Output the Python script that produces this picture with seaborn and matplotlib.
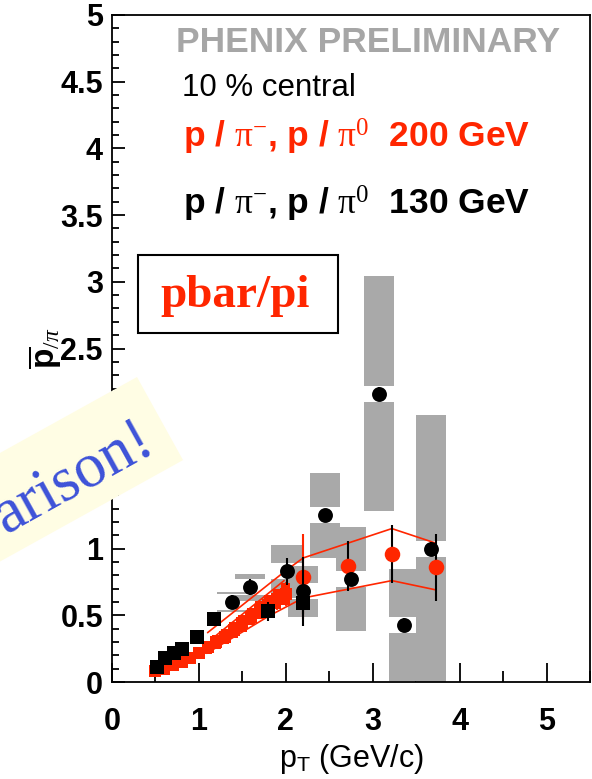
import numpy as np
import pandas as pd
import matplotlib
matplotlib.use("Agg")
import matplotlib.pyplot as plt
import seaborn as sns
from matplotlib.patches import Rectangle, Polygon
from matplotlib.ticker import MultipleLocator, FuncFormatter

# --- 200 GeV, p/pi- (red squares with red systematic boxes) ---
pt_200_pim = [0.5, 0.6, 0.7, 0.8, 0.9, 1.0, 1.1, 1.2, 1.3, 1.4, 1.5, 1.6, 1.7, 1.8, 1.9, 2.0]
ratio_200_pim = [0.085, 0.10, 0.125, 0.15, 0.18, 0.22, 0.26, 0.30, 0.34, 0.39, 0.44, 0.49, 0.54, 0.58, 0.62, 0.66]
err_200_pim = [0.01, 0.01, 0.012, 0.015, 0.02, 0.02, 0.025, 0.03, 0.035, 0.04, 0.045, 0.05, 0.06, 0.07, 0.08, 0.09]
sys_200_pim = [0.03, 0.032, 0.035, 0.038, 0.042, 0.045, 0.05, 0.053, 0.056, 0.06, 0.063, 0.066, 0.07, 0.073, 0.076, 0.08]

# --- 200 GeV, p/pi0 (red circles) ---
pt_200_pi0 = [2.20, 2.71, 3.22, 3.73]
ratio_200_pi0 = [0.79, 0.87, 0.96, 0.86]
err_200_pi0 = [0.32, 0.19, 0.22, 0.25]

# --- 200 GeV systematic band edges ---
band_up_x = [1.10, 2.01, 2.20, 3.22, 3.73]
band_up_y = [0.37, 0.84, 0.93, 1.15, 1.04]
band_lo_x = [1.09, 1.82, 2.20, 3.22, 3.73]
band_lo_y = [0.215, 0.50, 0.63, 0.76, 0.69]
inner_up_x = [1.20, 1.98]
inner_up_y = [0.35, 0.76]
inner_lo_x = [1.20, 1.98]
inner_lo_y = [0.27, 0.62]

# --- 130 GeV, p/pi- (black squares) ---
pt_130_pim = [0.52, 0.61, 0.71, 0.81, 0.98, 1.17, 1.80, 2.20]
ratio_130_pim = [0.115, 0.18, 0.215, 0.25, 0.335, 0.47, 0.53, 0.59]
err_130_pim = [0.01, 0.012, 0.014, 0.016, 0.02, 0.03, 0.07, 0.08]

# --- 130 GeV, p/pi0 (black circles) with systematic boxes ---
pt_130_pi0 = [1.38, 1.59, 2.01, 2.20, 2.45, 2.75, 3.07, 3.36, 3.67]
ratio_130_pi0 = [0.60, 0.71, 0.83, 0.68, 1.25, 0.77, 2.16, 0.43, 1.00]
err_130_pi0 = [0.05, 0.06, 0.10, 0.26, 0.05, 0.05, 0.05, 0.05, 0.05]
sys_130_pi0 = [0.075, 0.10, 0.20, 0.19, 0.32, 0.39, 0.88, 0.42, 1.00]

x_ticks = [0, 1, 2, 3, 4, 5]
y_ticks = [0, 0.5, 1, 1.5, 2, 2.5, 3, 3.5, 4, 4.5, 5]

RED = "#ff2600"
GRAY = "#a9a9a9"

sns.set_theme(style="ticks")
plt.rcParams["font.family"] = ["Liberation Sans", "DejaVu Sans"]
plt.rcParams["mathtext.fontset"] = "custom"
plt.rcParams["mathtext.rm"] = "Liberation Serif"
plt.rcParams["mathtext.it"] = "Liberation Serif:italic"
plt.rcParams["mathtext.bf"] = "Liberation Sans:bold"
plt.rcParams["mathtext.sf"] = "Liberation Sans"

W, H = 592, 779
fig = plt.figure(figsize=(W / 100, H / 100), dpi=100)
fig.patch.set_facecolor("white")


def fx(px):
    return px / W


def fy(py):
    return 1 - py / H


L, R, T, B = 112, 590, 15, 682
ax = fig.add_axes([fx(L), fy(B), (R - L) / W, (B - T) / H])
ax.set_facecolor("white")
ax.set_xlim(0, 5.5)
ax.set_ylim(0, 5)

# systematic boxes of the 130 GeV pi0 points, split around the marker
box_w = 0.35
gap = 0.06
df_box = pd.DataFrame({"x": pt_130_pi0, "y": ratio_130_pi0, "s": sys_130_pi0})
ax.bar(df_box.x, df_box.s - gap, bottom=df_box.y + gap, width=box_w,
       color=GRAY, linewidth=0, zorder=1)
ax.bar(df_box.x, df_box.s - gap, bottom=df_box.y - df_box.s, width=box_w,
       color=GRAY, linewidth=0, zorder=1)

# band outlines
for bx, by in [(band_up_x, band_up_y), (band_lo_x, band_lo_y),
               (inner_up_x, inner_up_y), (inner_lo_x, inner_lo_y)]:
    sns.lineplot(x=bx, y=by, sort=False, estimator=None, color=RED,
                 linewidth=1.2, ax=ax, legend=False, zorder=2)

# 200 GeV p/pi-
d = pd.DataFrame({"x": pt_200_pim, "y": ratio_200_pim, "e": err_200_pim,
                  "s": sys_200_pim})
ax.bar(d.x, 2 * d.s, bottom=d.y - d.s, width=0.1, color=RED, linewidth=0,
       zorder=3)
ax.vlines(d.x, d.y - d.e, d.y + d.e, color=RED, linewidth=1.3, zorder=3)
sns.scatterplot(data=d, x="x", y="y", marker="s", color=RED, s=85,
                edgecolor=RED, linewidth=0, ax=ax, zorder=4, legend=False)

# 200 GeV p/pi0
d = pd.DataFrame({"x": pt_200_pi0, "y": ratio_200_pi0, "e": err_200_pi0})
ecol = [RED, "black", "black", "black"]
ax.vlines(d.x, d.y - d.e, d.y + d.e, colors=ecol, linewidth=1.5, zorder=3)
sns.scatterplot(data=d, x="x", y="y", marker="o", color=RED, s=125,
                edgecolor=RED, linewidth=0, ax=ax, zorder=5, legend=False)

# 130 GeV p/pi-
d = pd.DataFrame({"x": pt_130_pim, "y": ratio_130_pim, "e": err_130_pim})
ax.vlines(d.x, d.y - d.e, d.y + d.e, color="black", linewidth=1.5, zorder=6)
sns.scatterplot(data=d, x="x", y="y", marker="s", color="black", s=90,
                edgecolor="black", linewidth=0, ax=ax, zorder=7, legend=False)

# 130 GeV p/pi0
d = pd.DataFrame({"x": pt_130_pi0, "y": ratio_130_pi0, "e": err_130_pi0})
ax.vlines(d.x, d.y - d.e, d.y + d.e, color="black", linewidth=1.5, zorder=6)
sns.scatterplot(data=d, x="x", y="y", marker="o", color="black", s=115,
                edgecolor="black", linewidth=0, ax=ax, zorder=7, legend=False)

# axes styling
for sp in ax.spines.values():
    sp.set_visible(True)
    sp.set_color("black")
    sp.set_linewidth(1.3)
ax.set_xticks(x_ticks)
ax.set_yticks(y_ticks)
ax.xaxis.set_minor_locator(MultipleLocator(0.5))
ax.yaxis.set_minor_locator(MultipleLocator(0.1))
fmt = FuncFormatter(lambda v, p: f"{v:g}")
ax.xaxis.set_major_formatter(fmt)
ax.yaxis.set_major_formatter(fmt)
ax.tick_params(axis="both", which="both", direction="in", color="black",
               width=1.3, top=False, right=False)
ax.tick_params(axis="x", which="major", length=14, pad=18)
ax.tick_params(axis="x", which="minor", length=8)
ax.tick_params(axis="y", which="major", length=9, pad=6.5)
ax.tick_params(axis="y", which="minor", length=5)
for lab in ax.get_xticklabels() + ax.get_yticklabels():
    lab.set_fontsize(22)
    lab.set_fontweight("bold")
    lab.set_color("black")
ax.grid(False)

ax.set_xlabel(r"p$_{\mathsf{T}}$ (GeV/c)", fontsize=22, color="black")
ax.xaxis.set_label_coords(0.5, -0.09)
ax.set_ylabel(r"$\overline{\mathbf{p}}_{/\pi}$", fontsize=24, color="black",
              rotation=90)
ax.yaxis.set_label_coords(-0.102, 0.5)

# header texts
fig.text(fx(368), fy(43), "PHENIX PRELIMINARY", fontsize=25.5, fontweight="bold",
         color="#a6a6a6", ha="center", va="center")
fig.text(fx(182), fy(96), "10 % central", fontsize=22.5, color="black",
         ha="left", va="baseline")
fig.text(fx(183), fy(148), r"p / $\mathrm{\pi}^{-}$, p / $\mathrm{\pi}^{0}$  200 GeV",
         fontsize=25.5, fontweight="bold", color=RED, ha="left", va="baseline")
fig.text(fx(183), fy(215), r"p / $\mathrm{\pi}^{-}$, p / $\mathrm{\pi}^{0}$  130 GeV",
         fontsize=25.5, fontweight="bold", color="black", ha="left", va="baseline")

# boxed label
fig.patches.append(Rectangle((fx(138), fy(333)), (338 - 138) / W, (333 - 255) / H,
                             transform=fig.transFigure, facecolor="white",
                             edgecolor="black", linewidth=1.5, zorder=10))
fig.text(fx(235), fy(296), "pbar/pi", fontsize=34, fontweight="bold",
         family="Liberation Serif", color=RED, ha="center", va="center", zorder=11)

# rotated note
ang = np.deg2rad(29)
u = np.array([np.cos(ang), -np.sin(ang)])
v = np.array([np.sin(ang), np.cos(ang)])
tr = np.array([137.0, 377.0])
corners = [tr, tr + 95 * v, tr + 95 * v - 500 * u, tr - 500 * u]
fig.patches.append(Polygon([(fx(c[0]), fy(c[1])) for c in corners], closed=True,
                           transform=fig.transFigure, facecolor="#fffde4",
                           edgecolor="none", zorder=20))
anchor = tr + 73 * v - 17 * u
fig.text(fx(anchor[0]), fy(anchor[1]), "arison!", fontsize=45,
         family="Liberation Serif", color="#3d52d8", rotation=29,
         rotation_mode="anchor", ha="right", va="baseline", zorder=21)

fig.savefig("out.png", dpi=100, facecolor="white")
